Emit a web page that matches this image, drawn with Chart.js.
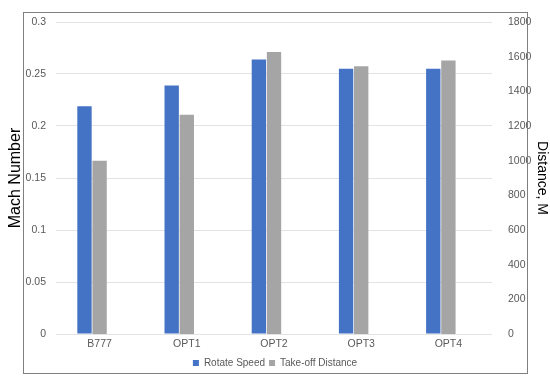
<!DOCTYPE html>
<html>
<head>
<meta charset="utf-8">
<script src="https://cdn.jsdelivr.net/npm/chart.js@4"></script>
<style>
  html, body { margin: 0; padding: 0; background: #fff; }
  #wrap { width: 550px; height: 382px; position: relative; }
</style>
</head>
<body>
<div id="wrap"><canvas id="chart" width="550" height="382"></canvas></div>
<script>
const categories = ['B777', 'OPT1', 'OPT2', 'OPT3', 'OPT4'];
const rotateSpeed = [0.219, 0.239, 0.264, 0.255, 0.255];
const takeoffDistance = [1000, 1265, 1627, 1545, 1578];

const machTicks = [0, 0.05, 0.1, 0.15, 0.2, 0.25, 0.3];
const distTicks = [0, 200, 400, 600, 800, 1000, 1200, 1400, 1600, 1800];

const FONT = 'Liberation Sans, Arial, sans-serif';
const tickFont = { family: FONT, size: 10.5 };

/* outer frame like the Excel chart area */
const framePlugin = {
  id: 'frame',
  afterDraw(chart) {
    const c = chart.ctx;
    c.save();
    c.strokeStyle = '#7f7f7f';
    c.lineWidth = 1;
    c.strokeRect(23.5, 12.5, 504, 361);
    c.restore();
  },
};

const barOpts = { barPercentage: 0.95, categoryPercentage: 0.52 };

new Chart(document.getElementById('chart'), {
  type: 'bar',
  data: {
    labels: categories,
    datasets: [
      { label: 'Rotate Speed', data: rotateSpeed, backgroundColor: '#4472C4', yAxisID: 'y', ...barOpts },
      { label: 'Take-off Distance', data: takeoffDistance, backgroundColor: '#A5A5A5', yAxisID: 'y1', ...barOpts },
      // empty slot: in the original the bar pairs sit a bit left of the labels
      { label: '', data: [], yAxisID: 'y', ...barOpts },
    ],
  },
  options: {
    responsive: false,
    animation: false,
    layout: { padding: { top: 22, bottom: 4, left: 0, right: 0 } },
    plugins: {
      tooltip: { enabled: false },
      legend: {
        position: 'bottom',
        labels: {
          color: '#595959',
          font: { family: FONT, size: 10 },
          boxWidth: 6,
          boxHeight: 6,
          padding: 4,
          filter: (item) => item.text !== '',
        },
      },
    },
    scales: {
      x: {
        grid: { display: false, drawTicks: false },
        border: { display: false },
        afterFit: (s) => { s.height = 20; },
        ticks: { color: '#595959', font: tickFont, padding: 4 },
      },
      y: {
        position: 'left',
        min: 0,
        max: 0.3,
        afterBuildTicks: (s) => { s.ticks = machTicks.map((v) => ({ value: v })); },
        afterFit: (s) => { s.width = 56; },
        grid: { color: '#e3e3e3', drawTicks: false },
        border: { display: false },
        ticks: {
          color: '#595959',
          font: tickFont,
          padding: 10,
          callback: (v) => String(v),
        },
        title: {
          display: true,
          text: 'Mach Number',
          color: '#000',
          font: { family: FONT, size: 16 },
          padding: { top: 6, bottom: 0 },
        },
      },
      y1: {
        position: 'right',
        min: 0,
        max: 1800,
        afterBuildTicks: (s) => { s.ticks = distTicks.map((v) => ({ value: v })); },
        afterFit: (s) => { s.width = 58; },
        grid: { display: false },
        border: { display: false },
        ticks: { color: '#595959', font: tickFont, padding: 8, callback: (v) => String(v) },
        title: {
          display: true,
          text: 'Distance, M',
          color: '#000',
          font: { family: FONT, size: 14 },
          padding: { top: 0, bottom: 7 },
        },
      },
    },
  },
  plugins: [framePlugin],
});
</script>
</body>
</html>
